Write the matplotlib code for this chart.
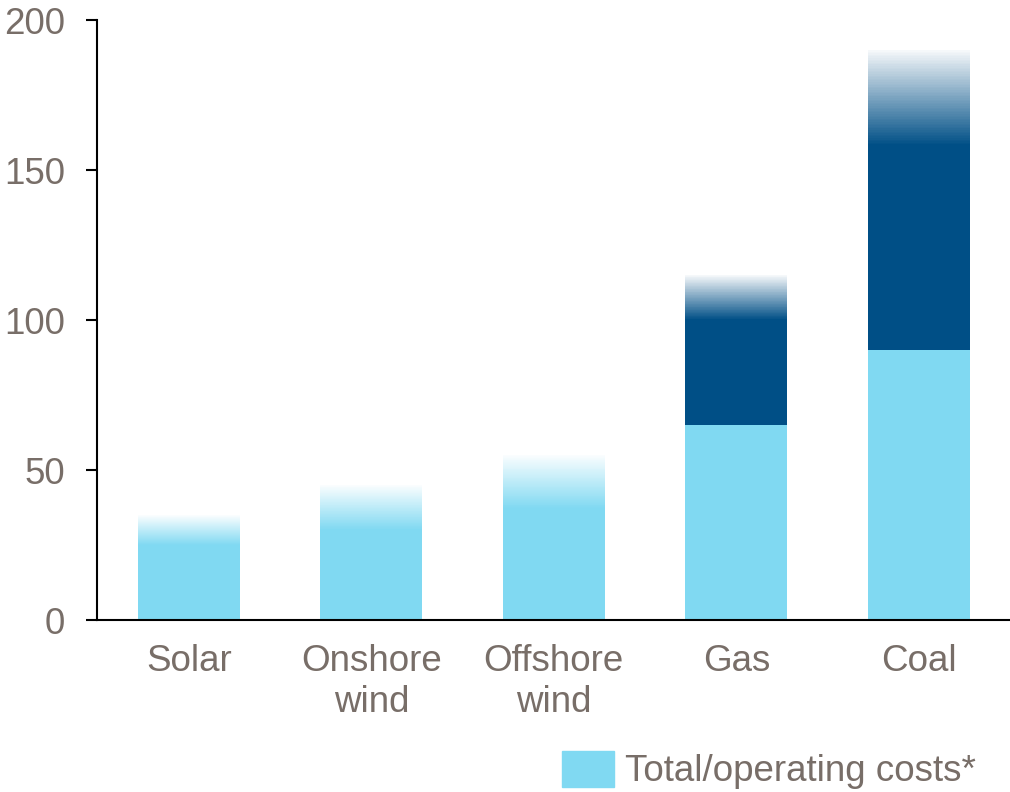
import numpy as np
import matplotlib
matplotlib.use('Agg')
import matplotlib.pyplot as plt
from matplotlib.patches import Patch

categories = ['Solar', 'Onshore\nwind', 'Offshore\nwind', 'Gas', 'Coal']
operating = [25, 30, 37, 65, 90]      # solid light part
fuel_part = [0, 0, 0, 35, 68]          # solid dark part on top
range_top = [35, 45, 55, 115, 190]     # top of faded range
yticks = [0, 50, 100, 150, 200]

light = '#80d9f2'
dark = '#004f86'
grey = '#786e68'

plt.rcParams['font.family'] = ['Liberation Sans', 'DejaVu Sans']

fig = plt.figure(figsize=(10.10, 7.92), dpi=100)
ax = fig.add_axes([97 / 1010, 172 / 792, 913 / 1010, 600 / 792])

x = np.arange(len(categories))
w = 0.56
ax.bar(x, operating, width=w, color=light, zorder=2)
ax.bar(x, fuel_part, width=w, bottom=operating, color=dark, zorder=2)

# faded range on top of each bar, drawn as thin stacked bar slices
n = 60
for i in range(len(categories)):
    base = operating[i] + fuel_part[i]
    col = dark if fuel_part[i] > 0 else light
    edges = np.linspace(base, range_top[i], n + 1)
    alphas = np.linspace(1.0, 0.04, n)
    for k in range(n):
        ax.bar(x[i], edges[k + 1] - edges[k], width=w, bottom=edges[k],
               color=col, alpha=alphas[k], linewidth=0, zorder=2)

ax.set_xlim(-0.504, 4.5)
ax.set_ylim(0, 200)
ax.set_yticks(yticks)
ax.set_xticks(x)
ax.set_xticklabels(categories, linespacing=1.22)

for s in ['top', 'right']:
    ax.spines[s].set_visible(False)
ax.spines['left'].set_linewidth(1.5)
ax.spines['bottom'].set_linewidth(1.5)
ax.tick_params(axis='y', length=8, width=1.5, pad=15, labelsize=26.5, labelcolor=grey)
ax.tick_params(axis='x', length=0, pad=17, labelsize=26.5, labelcolor=grey)

fig.legend(handles=[Patch(color=light, label='Total/operating costs*')],
           loc='center left', bbox_to_anchor=(562 / 1010, 1 - 770 / 792),
           frameon=False, fontsize=26.5, labelcolor=grey,
           handlelength=1.4, handleheight=1.15, handletextpad=0.32,
           borderpad=0, borderaxespad=0)

fig.savefig('out.png', dpi=100)
